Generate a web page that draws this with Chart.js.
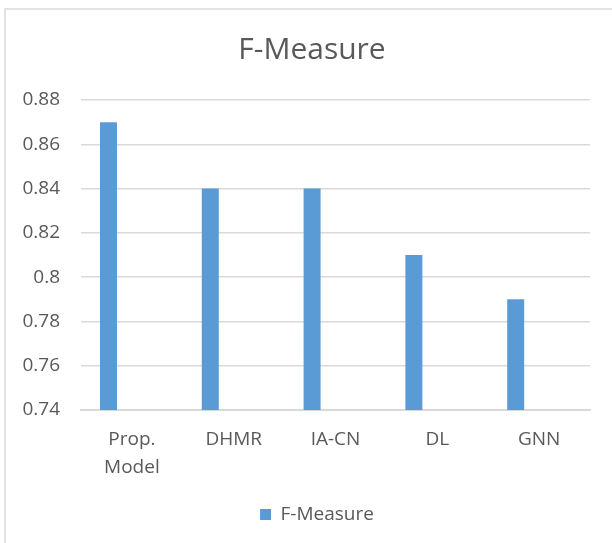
<!DOCTYPE html>
<html>
<head>
<meta charset="utf-8">
<script src="https://cdn.jsdelivr.net/npm/chart.js@4"></script>
<style>
  html, body { margin: 0; padding: 0; background: #fff; }
  #frame { position: absolute; left: 4px; top: 8px; width: 640px; height: 560px; border: 2px solid #e3e3e3; box-sizing: border-box; }
  #wrap { position: absolute; left: 0; top: 0; width: 612px; height: 543px; }
</style>
</head>
<body>
<div id="frame"></div>
<div id="wrap"><canvas id="chart"></canvas></div>
<script>
const categories = [['Prop.', 'Model'], 'DHMR', 'IA-CN', 'DL', 'GNN'];
const fMeasure = [0.87, 0.84, 0.84, 0.81, 0.79];
// excel had a second (empty) series, which pushes the bars left of the labels
const emptySeries = [null, null, null, null, null];
const yMin = 0.74, yMax = 0.88, yStep = 0.02;

const grey = '#595959';
const font = "'Open Sans', sans-serif";

// excel centres title and legend on the whole frame, not on the chart area
const centerShift = {
  id: 'centerShift',
  afterLayout(chart) {
    chart.titleBlock.left += 17;
    chart.titleBlock.right += 17;
    chart.legend.left += 22;
    chart.legend.right += 22;
    chart.legend.top -= 2;
    chart.legend.bottom -= 2;
  },
};

new Chart(document.getElementById('chart'), {
  type: 'bar',
  data: {
    labels: categories,
    datasets: [
      {
        label: 'F-Measure',
        data: fMeasure,
        backgroundColor: '#5B9BD5',
        categoryPercentage: 0.92,
        barPercentage: 0.363,
      },
      {
        label: '',
        data: emptySeries,
        backgroundColor: 'transparent',
        categoryPercentage: 0.92,
        barPercentage: 0.363,
      },
    ],
  },
  plugins: [centerShift],
  options: {
    responsive: true,
    maintainAspectRatio: false,
    animation: false,
    layout: { padding: { top: 8, right: 22, bottom: 7, left: 0 } },
    plugins: {
      title: {
        display: true,
        text: 'F-Measure',
        color: grey,
        font: { family: font, size: 30, weight: 'normal' },
        padding: { top: 24, bottom: 32 },
      },
      legend: {
        position: 'bottom',
        labels: {
          color: grey,
          font: { family: font, size: 19 },
          boxWidth: 11,
          boxHeight: 11,
          padding: 10,
          filter: (item) => item.text !== '',
        },
      },
      tooltip: { enabled: false },
    },
    scales: {
      x: {
        grid: { display: true, drawOnChartArea: false, drawTicks: false },
        border: { display: true, color: '#d9d9d9', width: 2 },
        ticks: {
          color: grey,
          font: { family: font, size: 19, lineHeight: 1.5 },
          padding: 15,
          maxRotation: 0,
        },
      },
      y: {
        min: yMin,
        max: yMax,
        afterFit: (scale) => { scale.width = 81; },
        grid: { color: '#d9d9d9', lineWidth: 1.5, drawTicks: false },
        border: { display: false },
        ticks: {
          stepSize: yStep,
          color: grey,
          font: { family: font, size: 19 },
          padding: 21,
          callback: (v) => String(parseFloat(v.toFixed(2))),
        },
      },
    },
  },
});
</script>
</body>
</html>
